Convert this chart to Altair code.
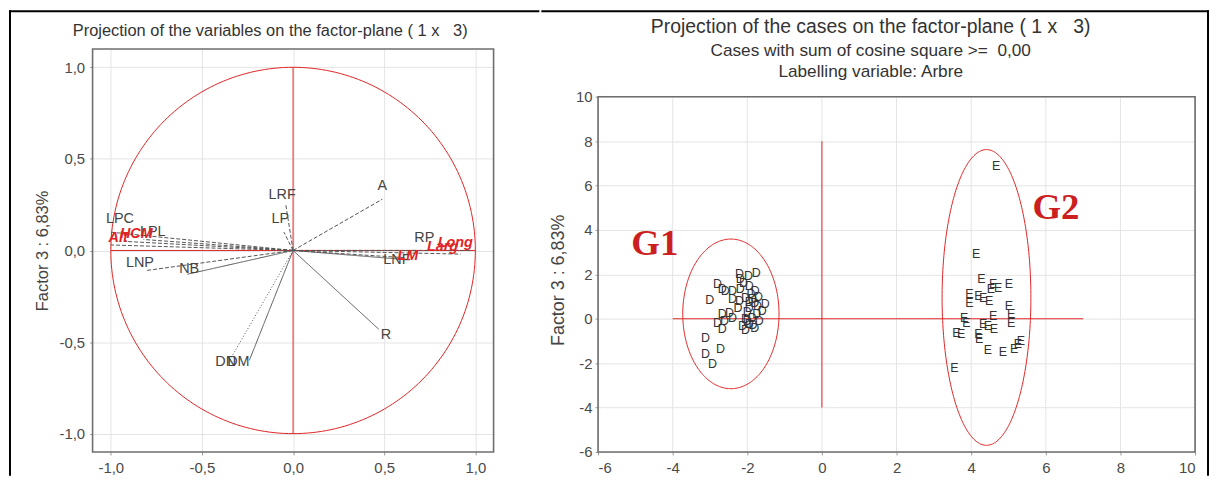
import altair as alt
import numpy as np
import pandas as pd

RED = "#e02424"
FONT = "Liberation Sans"
FRAME = "#6e6e6e"
GRID = "#e4e4e4"

# ---------------- Left panel: variables (factor 1 x factor 3) ----------------
var_names = ["A", "LRF", "LP", "LPC", "LPL", "LNP", "NB", "RP", "LNF", "R", "DN", "DM",
             "Alt", "HCM", "Long", "Larg", "LM"]
var_x = [0.49, -0.04, -0.05, -1.00, -0.82, -0.81, -0.58, 0.70, 0.62, 0.47, -0.36, -0.24,
         -1.00, -0.93, 0.98, 0.92, 0.62]
var_y = [0.28, 0.25, 0.10, 0.10, 0.06, -0.11, -0.13, 0.00, -0.05, -0.43, -0.62, -0.60,
         0.03, 0.05, 0.00, -0.02, -0.04]
lab_x = [0.49, -0.06, -0.07, -0.95, -0.77, -0.84, -0.57, 0.72, 0.57, 0.51, -0.37, -0.30,
         -0.96, -0.86, 0.89, 0.82, 0.63]
lab_y = [0.35, 0.30, 0.17, 0.17, 0.10, -0.07, -0.10, 0.07, -0.05, -0.46, -0.61, -0.61,
         0.07, 0.09, 0.04, 0.02, -0.03]
var_type = ["active"] * 12 + ["supp"] * 5
var_line = ["dashed", "dashed", "dashed", "dashed", "dashed", "dashed", "solid", "dashed",
            "solid", "solid", "dotted", "solid", "dashed", "dashed", "dashed", "dashed", "dashed"]

left_domain = [-1.1, 1.1]
left_ticks = [-1.0, -0.5, 0.0, 0.5, 1.0]
circle_radius = 1.0
left_cross_x = [-1, 0]
left_cross_x2 = [1, 0]
left_cross_y = [0, -1]
left_cross_y2 = [0, 1]

# ---------------- Right panel: cases ----------------
D_x = [-1.76, -1.97, -2.21, -2.19, -2.80, -2.67, -2.59, -2.40, -2.19, -1.95, -1.79, -3.01,
       -2.40, -2.21, -2.05, -1.87, -1.52, -1.73, -1.95, -2.48, -2.67, -2.80, -2.61, -2.40,
       -2.05, -1.87, -1.68, -2.13, -1.95, -2.67, -3.12, -2.72, -3.12, -2.93,
       -1.90, -1.80, -2.00, -1.85, -2.05, -1.75, -1.95, -2.10, -1.70, -2.00, -1.80, -2.25, -1.60]
D_y = [2.06, 1.93, 2.02, 1.79, 1.57, 1.35, 1.26, 1.26, 1.35, 1.48, 1.26, 0.85,
       0.90, 0.81, 0.94, 0.90, 0.67, 0.58, 0.49, 0.27, 0.22, -0.18, -0.09, 0.04,
       0.00, 0.04, -0.09, -0.31, -0.22, -0.45, -0.85, -1.35, -1.57, -2.02,
       1.10, 0.70, 0.30, -0.30, -0.50, 0.20, 0.75, 1.60, 1.00, -0.10, -0.40, 0.50, 0.35]
E_x = [4.67, 4.13, 4.27, 4.59, 4.72, 5.01, 4.53, 3.95, 4.19, 4.32, 4.48, 3.95, 5.01, 5.07,
       3.81, 4.59, 5.07, 3.87, 4.32, 4.45, 4.61, 3.60, 3.73, 4.19, 4.21, 5.33, 5.25, 5.15,
       4.45, 4.85, 3.55]
E_y = [6.86, 2.91, 1.79, 1.57, 1.39, 1.57, 1.35, 1.12, 1.03, 0.94, 0.81, 0.72, 0.58, 0.22,
       0.04, 0.13, -0.18, -0.18, -0.22, -0.31, -0.45, -0.63, -0.67, -0.67, -0.90, -0.99,
       -1.12, -1.35, -1.43, -1.52, -2.24]

group_names = ["G1", "G2"]
group_cx = [-2.44, 4.41]
group_cy = [0.22, 0.96]
group_rx = [1.29, 1.19]
group_ry = [3.37, 6.66]
group_lab_x = [-4.48, 6.27]
group_lab_y = [3.36, 4.98]

right_frame = [-6, 10]
right_ticks = [-6, -4, -2, 0, 2, 4, 6, 8, 10]
right_y_top = 12.153  # room above the frame for the title block
right_cross_x = [-4, 0]
right_cross_x2 = [7, 0]
right_cross_y = [0, -4]
right_cross_y2 = [0, 8]

# ---------------- tables ----------------
vars_df = pd.DataFrame({"name": var_names, "x": var_x, "y": var_y, "lx": lab_x, "ly": lab_y,
                        "type": var_type, "line": var_line, "x0": 0.0, "y0": 0.0})
t = np.linspace(0, 2 * np.pi, 241)
circ_df = pd.DataFrame({"x": circle_radius * np.cos(t), "y": circle_radius * np.sin(t),
                        "i": np.arange(len(t))})
lcross_df = pd.DataFrame({"x": left_cross_x, "x2": left_cross_x2, "y": left_cross_y, "y2": left_cross_y2})
lframe_df = pd.DataFrame({"x": [left_domain[0]], "x2": [left_domain[1]],
                          "y": [left_domain[0]], "y2": [left_domain[1]]})

cases_df = pd.concat([
    pd.DataFrame({"x": D_x, "y": D_y, "lab": "D"}),
    pd.DataFrame({"x": E_x, "y": E_y, "lab": "E"}),
])
ell_rows = []
for g, cx, cy, rx, ry in zip(group_names, group_cx, group_cy, group_rx, group_ry):
    for k, a in enumerate(t):
        ell_rows.append({"g": g, "i": k, "x": cx + rx * np.cos(a), "y": cy + ry * np.sin(a)})
ell_df = pd.DataFrame(ell_rows)
glab_df = pd.DataFrame({"g": group_names, "x": group_lab_x, "y": group_lab_y})
rcross_df = pd.DataFrame({"x": right_cross_x, "x2": right_cross_x2, "y": right_cross_y, "y2": right_cross_y2})
rframe_df = pd.DataFrame({"x": [right_frame[0]], "x2": [right_frame[1]],
                          "y": [right_frame[0]], "y2": [right_frame[1]]})
rgrid_df = pd.DataFrame({"x": right_ticks, "y": right_frame[0], "y2": right_frame[1]})
dummy = pd.DataFrame({"k": [0]})

# ---------------- Left chart ----------------
lab_expr_l = "(datum.value < 0 ? '-' : '') + replace(format(abs(datum.value), '.1f'), '.', ',')"
xs_l = alt.Scale(domain=left_domain, nice=False, zero=False)
ys_l = alt.Scale(domain=left_domain, nice=False, zero=False)
xax_l = alt.Axis(values=left_ticks, labelExpr=lab_expr_l, title=None, labelPadding=6)
yax_l = alt.Axis(values=left_ticks, labelExpr=lab_expr_l, title="Factor 3 : 6,83%",
                 titlePadding=8, titleFontSize=16.5, labelPadding=5)


def XL(f):
    return alt.X(f, type="quantitative", scale=xs_l, axis=xax_l)


def YL(f):
    return alt.Y(f, type="quantitative", scale=ys_l, axis=yax_l)


lframe = alt.Chart(lframe_df).mark_rect(fillOpacity=0, stroke=FRAME, strokeWidth=1.6).encode(
    x=XL("x"), x2="x2:Q", y=YL("y"), y2="y2:Q")
circle = alt.Chart(circ_df).mark_line(color=RED, strokeWidth=1).encode(
    x=XL("x"), y=YL("y"), order="i:Q")
lcross = alt.Chart(lcross_df).mark_rule(color=RED, strokeWidth=1).encode(
    x=XL("x"), x2="x2:Q", y=YL("y"), y2="y2:Q")
vectors = alt.Chart(vars_df).mark_rule(color="#555555", strokeWidth=1).encode(
    x=XL("x0"), y=YL("y0"), x2="x:Q", y2="y:Q",
    strokeDash=alt.StrokeDash("line:N", scale=alt.Scale(domain=["dashed", "solid", "dotted"],
                                                        range=[[4, 2], [1, 0], [1, 2]]), legend=None))
act_labels = alt.Chart(vars_df[vars_df.type == "active"]).mark_text(
    font=FONT, fontSize=14.5, color="#444444").encode(x=XL("lx"), y=YL("ly"), text="name:N")
sup_labels = alt.Chart(vars_df[vars_df.type == "supp"]).mark_text(
    font=FONT, fontSize=14.5, color=RED, fontStyle="italic", fontWeight="bold").encode(
    x=XL("lx"), y=YL("ly"), text="name:N")
bl_top = alt.Chart(dummy).mark_rule(color="black", strokeWidth=2).encode(
    x=alt.value(-84), x2=alt.value(449), y=alt.value(-38))
bl_left = alt.Chart(dummy).mark_rule(color="black", strokeWidth=2).encode(
    x=alt.value(-83), y=alt.value(-39), y2=alt.value(429))

left = alt.layer(lframe, lcross, circle, vectors, act_labels, sup_labels, bl_top, bl_left).properties(
    width=403, height=405,
    title=alt.TitleParams("Projection of the variables on the factor-plane (\u00a01 x \u00a0\u00a03)",
                          offset=-30, fontSize=16.5, dx=-23))

# ---------------- Right chart ----------------
lab_expr_r = "(datum.value < 0 ? '-' : '') + format(abs(datum.value), 'd')"
xs_r = alt.Scale(domain=right_frame, nice=False, zero=False)
ys_r = alt.Scale(domain=[right_frame[0], right_y_top], nice=False, zero=False)
xax_r = alt.Axis(values=right_ticks, labelExpr=lab_expr_r, title=None, labelPadding=6, grid=False)
yax_r = alt.Axis(values=right_ticks, labelExpr=lab_expr_r, title="Factor 3 : 6,83%",
                 titlePadding=8, titleFontSize=18, labelPadding=3, titleY=232)


def XR(f):
    return alt.X(f, type="quantitative", scale=xs_r, axis=xax_r)


def YR(f):
    return alt.Y(f, type="quantitative", scale=ys_r, axis=yax_r)


rgrid = alt.Chart(rgrid_df).mark_rule(color=GRID, strokeWidth=1).encode(
    x=XR("x"), y=YR("y"), y2="y2:Q")
rframe = alt.Chart(rframe_df).mark_rect(fillOpacity=0, stroke=FRAME, strokeWidth=1.6).encode(
    x=XR("x"), x2="x2:Q", y=YR("y"), y2="y2:Q")
rcross = alt.Chart(rcross_df).mark_rule(color=RED, strokeWidth=1).encode(
    x=XR("x"), x2="x2:Q", y=YR("y"), y2="y2:Q")
ellipses = alt.Chart(ell_df).mark_line(color=RED, strokeWidth=1).encode(
    x=XR("x"), y=YR("y"), detail="g:N", order="i:Q")
cases = alt.Chart(cases_df).mark_text(font=FONT, fontSize=12.5, color="#333333").encode(
    x=XR("x"), y=YR("y"), text="lab:N")
glabels = alt.Chart(glab_df).mark_text(font="Liberation Serif", fontSize=37, fontWeight="bold",
                                       color="#cc2020").encode(x=XR("x"), y=YR("y"), text="g:N")
br_top = alt.Chart(dummy).mark_rule(color="black", strokeWidth=2).encode(
    x=alt.value(-57), x2=alt.value(614), y=alt.value(-38))
br_right = alt.Chart(dummy).mark_rule(color="black", strokeWidth=2).encode(
    x=alt.value(613), y=alt.value(-39), y2=alt.value(429))

right = alt.layer(rgrid, rframe, rcross, ellipses, cases, glabels, br_top, br_right).properties(
    width=600, height=405,
    title=alt.TitleParams("Projection of the cases on the factor-plane (\u00a01 x \u00a0\u00a03)",
                          subtitle=["Cases with sum of cosine square >= \u00a00,00",
                                    "Labelling variable: Arbre"],
                          offset=-72, fontSize=19.5, subtitleFontSize=17.3, dx=-26,
                          subtitlePadding=4, subtitleLineHeight=21))

chart = alt.hconcat(left, right, spacing=0).properties(padding=0).configure_view(
    strokeOpacity=0
).configure_axis(
    grid=True, gridColor=GRID, domain=False, tickColor="#999999", tickSize=3,
    labelFont=FONT, labelFontSize=15, labelColor="#4a4a4a",
    titleFont=FONT, titleFontWeight="normal", titleColor="#444444"
).configure_title(
    font=FONT, fontWeight="normal", color="#333333", anchor="middle",
    subtitleFont=FONT, subtitleColor="#333333"
)

chart.save("out.html", embed_options={"renderer": "svg", "actions": False})
